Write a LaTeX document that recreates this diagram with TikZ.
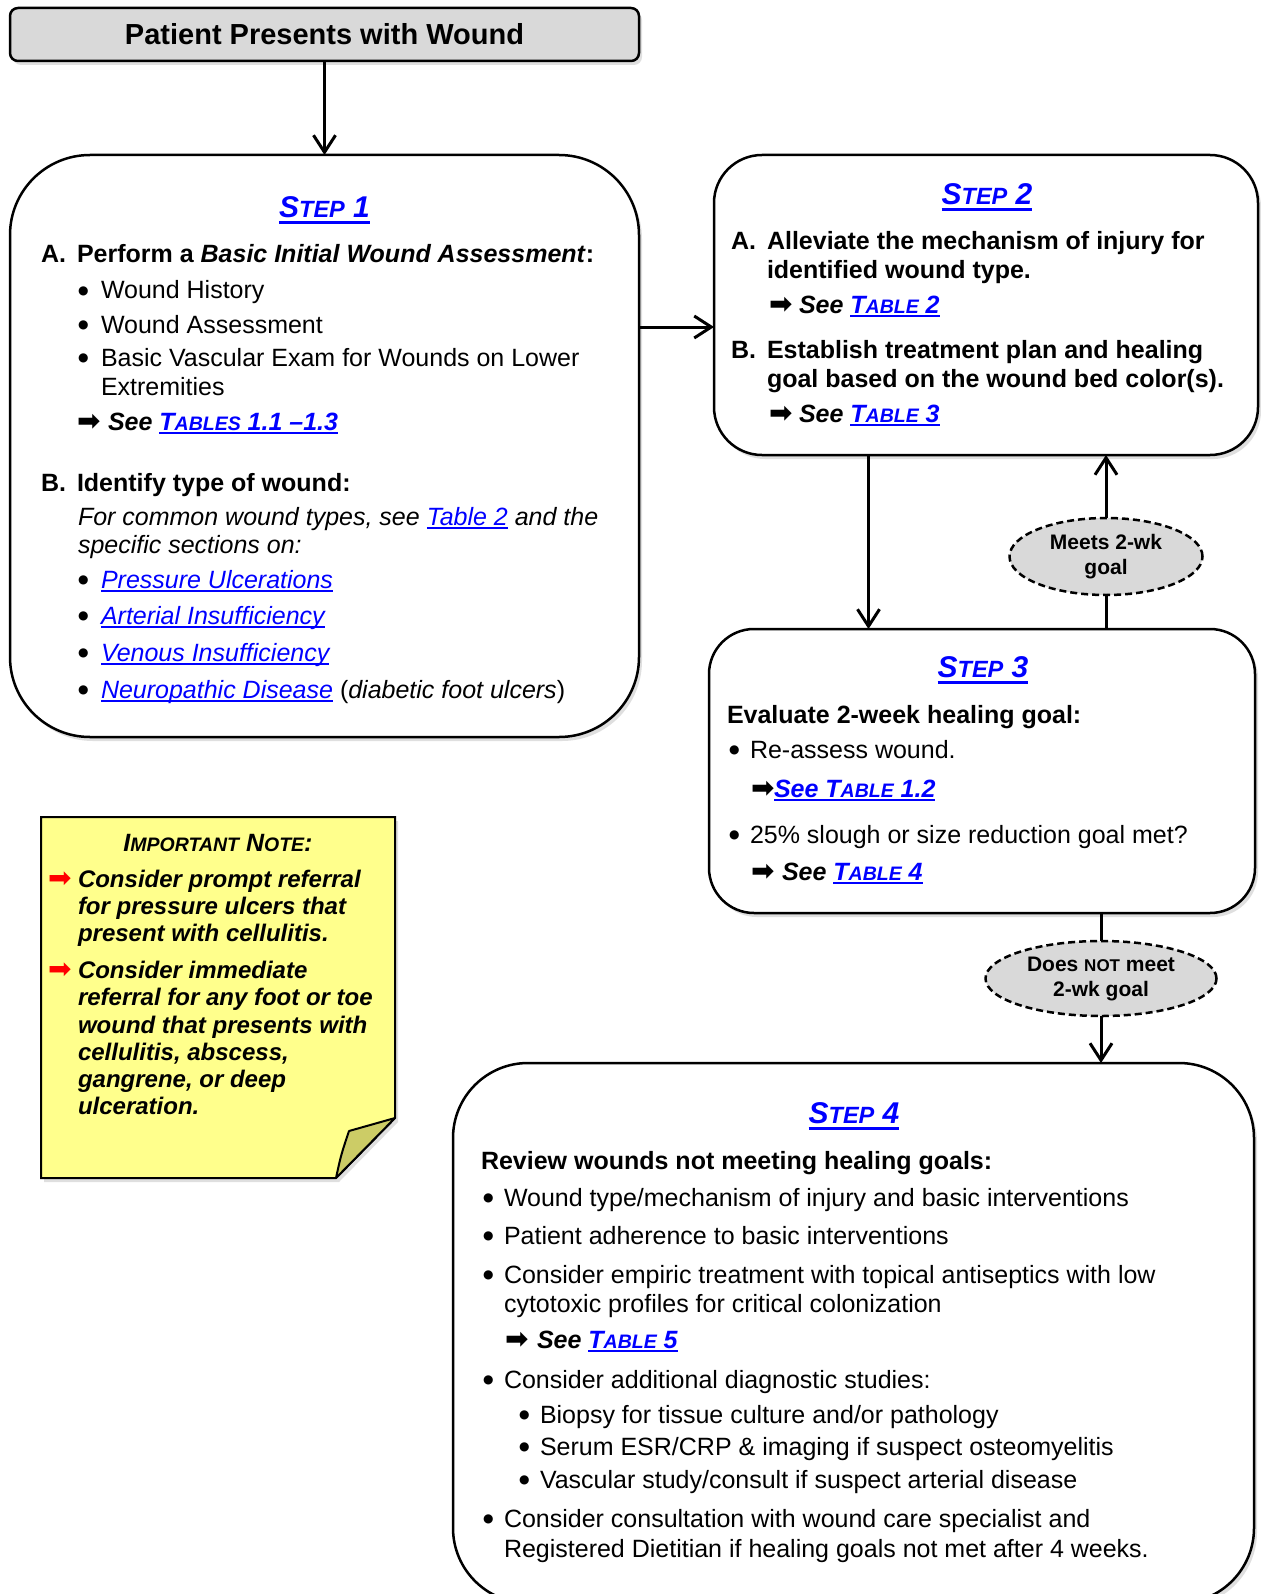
\documentclass[tikz,border=0pt]{standalone}
\usepackage{fontspec}
\setmainfont{Liberation Sans}
\newfontfamily\dejavu{DejaVu Sans}
\usetikzlibrary{arrows.meta,shapes.geometric,shadows}
\definecolor{linkblue}{RGB}{0,0,255}
\definecolor{boxgray}{RGB}{217,217,217}
\definecolor{noteyellow}{RGB}{255,255,140}
\definecolor{notefold}{RGB}{204,204,102}
\definecolor{notered}{RGB}{255,0,0}
\newcommand\ulbase[3]{{\setbox0\hbox{#3}\rlap{\rule[#1]{\wd0}{#2}}\box0}}
\newcommand\lnk[1]{{\color{linkblue}\ulbase{-4pt}{1.8pt}{#1}}}
\newcommand\smc[2]{{\fontsize{#1}{#1}\selectfont #2}}
\newcommand\rarr{{\dejavu\fontsize{28}{28}\selectfont ➡}}
\newcommand\bul[1]{\makebox[#1][l]{\raisebox{4.8pt}{\dejavu\fontsize{12}{12}\selectfont ●}}}
\newcommand\steptitle[1]{{\fontsize{30}{30}\selectfont\bfseries\itshape\color{linkblue}\ulbase{-6.5pt}{3pt}{S\smc{23.5}{TEP} #1}}}
\begin{document}
\begin{tikzpicture}[x=1pt,y=-1pt,
  every node/.style={inner sep=0pt, outer sep=0pt},
  body/.style={anchor=base west, font=\fontsize{25}{30}\selectfont},
  bodyb/.style={anchor=base west, font=\fontsize{25}{30}\selectfont\bfseries},
  bodyi/.style={anchor=base west, font=\fontsize{25}{30}\selectfont\itshape},
  bodybi/.style={anchor=base west, font=\fontsize{25}{30}\selectfont\bfseries\itshape},
  ttl/.style={anchor=base},
  shad/.style={drop shadow={shadow xshift=3pt, shadow yshift=-4pt, opacity=0.25}},
  stepbox/.style={draw, line width=2.5pt, fill=white, shad},
  topbox/.style={draw, line width=2.5pt, fill=boxgray, rounded corners=8pt, shad,
     font=\fontsize{29}{34}\selectfont\bfseries},
  conn/.style={line width=3pt},
  arr/.style={conn, -{Straight Barb[length=17pt, width=22pt]}},
  goal/.style={ellipse, draw, line width=2.5pt, dash pattern=on 7pt off 4pt, fill=boxgray,
     inner sep=0pt, align=center, font=\fontsize{21}{25}\selectfont\bfseries},
  notetxt/.style={anchor=base west, font=\fontsize{24}{27}\selectfont\bfseries\itshape},
]
\useasboundingbox (0,0) rectangle (1260,1594);
\fill[white] (0,0) rectangle (1260,1594);

% ---------- boxes ----------
\node[topbox, minimum width=629pt, minimum height=53pt] (top) at (324.5,34.5) {Patient Presents with Wound};
\node[stepbox, rounded corners=80pt, minimum width=629pt, minimum height=582pt] (step1) at (324.5,446) {};
\node[stepbox, rounded corners=48pt, minimum width=544pt, minimum height=300pt] (step2) at (986,305) {};
\node[stepbox, rounded corners=45pt, minimum width=546pt, minimum height=284pt] (step3) at (982,771) {};
\node[stepbox, rounded corners=75pt, minimum width=801pt, minimum height=540pt] (step4) at (853.5,1333) {};

% ---------- note ----------
\path[draw, line width=2pt, fill=noteyellow, shad] (41,817) -- (395,817) -- (395,1118) -- (336,1178) -- (41,1178) -- cycle;
\path[draw, line width=2pt, fill=notefold, line join=round] (336,1178) .. controls (341,1155) .. (349,1131) -- (395,1118) -- cycle;

% ---------- goal ellipses ----------
\node[goal, minimum width=193pt, minimum height=77pt] (meets) at (1106,556.5) {Meets 2-wk\\goal};
\node[goal, minimum width=231pt, minimum height=75pt] (notmeet) at (1101,978.5) {Does \smc{17}{NOT} meet\\2-wk goal};

% ---------- connectors ----------
\coordinate (c12) at (0,327);
\coordinate (c23) at (868.5,0);
\draw[arr] (top.south) -- (step1.north);
\draw[arr] (step1.east |- c12) -- (step2.west |- c12);
\draw[arr] (step2.south -| c23) -- (step3.north -| c23);
\draw[conn] (step3.north -| meets) -- (meets.south);
\draw[arr] (meets.north) -- (step2.south -| meets);
\draw[conn] (step3.south -| notmeet) -- (notmeet.north);
\draw[arr] (notmeet.south) -- (step4.north -| notmeet);

% ---------- step 1 text ----------
\node[ttl] (s1t) at (324.5,218) {\steptitle{1}};
\node[bodyb] (s1a) at (41,263) {A.};
\node[bodyb] (s1at) at (77,263) {Perform a \textit{Basic Initial Wound Assessment}:};
\node[body] (s1a1) at (78,299) {\bul{23pt}Wound History};
\node[body] (s1a2) at (78,333) {\bul{23pt}Wound Assessment};
\node[body] (s1a3) at (78,366) {\bul{23pt}Basic Vascular Exam for Wounds on Lower};
\node[body] (s1a3b) at (101,395) {Extremities};
\node[bodybi] (s1a4) at (77,430) {\makebox[31pt][l]{\rarr}See \lnk{T\smc{19.5}{ABLES} 1.1 –1.3}};
\node[bodyb] (s1b) at (41,491) {B.};
\node[bodyb] (s1bt) at (77,491) {Identify type of wound:};
\node[bodyi] (s1b1) at (78,525) {For common wound types, see \lnk{Table 2} and the};
\node[bodyi] (s1b2) at (78,553) {specific sections on:};
\node[bodyi] (s1b3) at (78,588) {\bul{23pt}\lnk{Pressure Ulcerations}};
\node[bodyi] (s1b4) at (78,624) {\bul{23pt}\lnk{Arterial Insufficiency}};
\node[bodyi] (s1b5) at (78,661) {\bul{23pt}\lnk{Venous Insufficiency}};
\node[bodyi] (s1b6) at (78,698) {\bul{23pt}\lnk{Neuropathic Disease} \textup{(}diabetic foot ulcers\textup{)}};

% ---------- step 2 text ----------
\node[ttl] (s2t) at (987,205) {\steptitle{2}};
\node[bodyb] (s2a) at (731,250) {A.};
\node[bodyb] (s2a1) at (767,250) {Alleviate the mechanism of injury for};
\node[bodyb] (s2a2) at (767,279) {identified wound type.};
\node[bodybi] (s2a3) at (769,313) {\makebox[30pt][l]{\rarr}See \lnk{T\smc{19.5}{ABLE} 2}};
\node[bodyb] (s2b) at (731,358) {B.};
\node[bodyb] (s2b1) at (767,358) {Establish treatment plan and healing};
\node[bodyb] (s2b2) at (767,387) {goal based on the wound bed color(s).};
\node[bodybi] (s2b3) at (769,422) {\makebox[30pt][l]{\rarr}See \lnk{T\smc{19.5}{ABLE} 3}};

% ---------- step 3 text ----------
\node[ttl] (s3t) at (983,677) {\steptitle{3}};
\node[bodyb] (s3h) at (727,723) {Evaluate 2-week healing goal:};
\node[body] (s3a) at (729,758) {\bul{21pt}Re-assess wound.};
\node[bodybi] (s3b) at (751,797) {\makebox[23pt][l]{\rarr}\lnk{See T\smc{19.5}{ABLE} 1.2}};
\node[body] (s3c) at (729,843) {\bul{21pt}25\% slough or size reduction goal met?};
\node[bodybi] (s3d) at (751,880) {\makebox[31pt][l]{\rarr}See \lnk{T\smc{19.5}{ABLE} 4}};

% ---------- step 4 text ----------
\node[ttl] (s4t) at (854,1123) {\steptitle{4}};
\node[bodyb] (s4h) at (481,1169) {Review wounds not meeting healing goals:};
\node[body] (s4a) at (483,1206) {\bul{21pt}Wound type/mechanism of injury and basic interventions};
\node[body] (s4b) at (483,1244) {\bul{21pt}Patient adherence to basic interventions};
\node[body] (s4c) at (483,1283) {\bul{21pt}Consider empiric treatment with topical antiseptics with low};
\node[body] (s4c2) at (504,1312) {cytotoxic profiles for critical colonization};
\node[bodybi] (s4d) at (505,1348) {\makebox[32pt][l]{\rarr}See \lnk{T\smc{19.5}{ABLE} 5}};
\node[body] (s4e) at (483,1388) {\bul{21pt}Consider additional diagnostic studies:};
\node[body] (s4e1) at (519,1423) {\bul{21pt}Biopsy for tissue culture and/or pathology};
\node[body] (s4e2) at (519,1455) {\bul{21pt}Serum ESR/CRP \& imaging if suspect osteomyelitis};
\node[body] (s4e3) at (519,1488) {\bul{21pt}Vascular study/consult if suspect arterial disease};
\node[body] (s4f) at (483,1527) {\bul{21pt}Consider consultation with wound care specialist and};
\node[body] (s4f2) at (504,1557) {Registered Dietitian if healing goals not met after 4 weeks.};

% ---------- note text ----------
\node[anchor=base, font=\fontsize{25}{30}\selectfont\bfseries\itshape] (nt) at (218,851) {I\smc{19.5}{MPORTANT} N\smc{19.5}{OTE}:};
\node[anchor=base west, text=notered] (na1) at (48,887) {\rarr};
\node[anchor=base west, text=notered] (na2) at (48,978) {\rarr};
\node[notetxt] (n1) at (78,887) {Consider prompt referral};
\node[notetxt] (n2) at (78,914) {for pressure ulcers that};
\node[notetxt] (n3) at (78,941) {present with cellulitis.};
\node[notetxt] (n4) at (78,978) {Consider immediate};
\node[notetxt] (n5) at (78,1005) {referral for any foot or toe};
\node[notetxt] (n6) at (78,1033) {wound that presents with};
\node[notetxt] (n7) at (78,1060) {cellulitis, abscess,};
\node[notetxt] (n8) at (78,1087) {gangrene, or deep};
\node[notetxt] (n9) at (78,1114) {ulceration.};
\end{tikzpicture}
\end{document}
